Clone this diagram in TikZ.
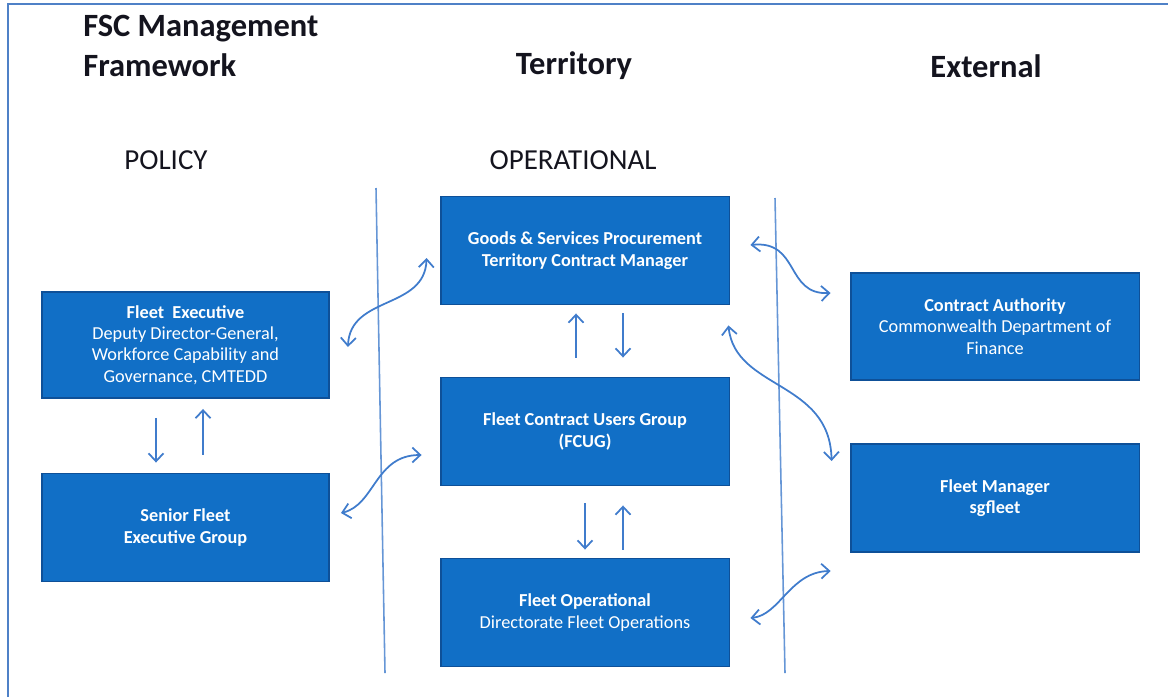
\documentclass[tikz,border=0pt]{standalone}
\usepackage{fontspec}
\setmainfont{Carlito}
\usepackage{tikz}
\usetikzlibrary{arrows.meta, positioning}
\definecolor{fscblue}{RGB}{17,111,198}
\definecolor{fscedge}{RGB}{14,80,152}
\definecolor{fscline}{RGB}{64,124,204}
\definecolor{fscframe}{RGB}{79,129,199}
\definecolor{fscink}{RGB}{20,20,30}
\tikzstyle{orgbox} = [rectangle, fill=fscblue, draw=fscedge, line width=1.1pt,
minimum width=5.78cm, minimum height=2.16cm,
align=center, text=white, font=\fontsize{10.4}{12.2}\selectfont]
\tikzstyle{heading} = [font=\fontsize{18.5}{22.7}\selectfont\bfseries, text=fscink, inner sep=0pt]
\tikzstyle{subheading} = [font=\fontsize{16.5}{20}\selectfont, text=fscink, inner sep=0pt]
\tikzstyle{arrow} = [-{Straight Barb[length=1.6mm, width=3mm]}, draw=fscline, line width=1pt]
\tikzstyle{twoway} = [{Straight Barb[length=1.6mm, width=3mm]}-{Straight Barb[length=1.6mm, width=3mm]}, draw=fscline, line width=1pt]
\tikzstyle{divider} = [draw=fscline!80, line width=0.9pt]

\begin{document}
\begin{tikzpicture}[x=0.02cm, y=-0.02cm]
    \useasboundingbox (0,0) rectangle (1168,697);
    \draw[fscframe, line width=1.6pt] (8,697) -- (8,4) -- (1168,4);

    % column headings
    \node (title) [heading, anchor=west, align=left] at (83,46) {FSC Management\\Framework};
    \node (terr)  [heading] at (574,66) {Territory};
    \node (ext)   [heading] at (986,66) {External};
    \node (pol)   [subheading] at (166,160) {POLICY};
    \node (oper)  [subheading] at (573,160) {OPERATIONAL};

    % column dividers
    \draw[divider] (376,188) -- (385,673);
    \draw[divider] (775,198) -- (785,673);

    % policy column
    \node (exec)   [orgbox, minimum width=5.74cm, minimum height=2.12cm] at (185.5,345)
        {\textbf{Fleet\ \ Executive}\\Deputy Director-General,\\Workforce Capability and\\Governance, CMTEDD};
    \node (senior) [orgbox, minimum width=5.74cm] at (185.5,527.5)
        {\textbf{Senior Fleet}\\\textbf{Executive Group}};

    % operational column
    \node (goods)   [orgbox] at (585,250.5)
        {\textbf{Goods \& Services Procurement}\\\textbf{Territory Contract Manager}};
    \node (fcug)    [orgbox] at (585,431.5)
        {\textbf{Fleet Contract Users Group}\\\textbf{(FCUG)}};
    \node (fleetop) [orgbox] at (585,612.5)
        {\textbf{Fleet Operational}\\Directorate Fleet Operations};

    % external column
    \node (auth)    [orgbox, minimum height=2.14cm] at (995,326.5)
        {\textbf{Contract Authority}\\Commonwealth Department of\\Finance};
    \node (manager) [orgbox, minimum height=2.16cm] at (995,498)
        {\textbf{Fleet Manager}\\\textbf{sgfleet}};

    % up and down links
    \draw[arrow] ([shift={(-29.5,19)}]exec.south) -- ([shift={(-29.5,-10)}]senior.north);
    \draw[arrow] ([shift={(17.5,-18)}]senior.north) -- ([shift={(17.5,10)}]exec.south);
    \draw[arrow] ([shift={(-9,-19)}]fcug.north) -- ([shift={(-9,8)}]goods.south);
    \draw[arrow] ([shift={(38,8)}]goods.south) -- ([shift={(38,-19)}]fcug.north);
    \draw[arrow] ([shift={(0,17)}]fcug.south) -- ([shift={(0,-8)}]fleetop.north);
    \draw[arrow] ([shift={(38,-8)}]fleetop.north) -- ([shift={(38,19)}]fcug.south);

    % links across the dividers
    \draw[twoway] ([shift={(18,2)}]exec.east) .. controls (350,295) and (425,310) .. ([shift={(-13,7.5)}]goods.west);
    \draw[twoway] ([shift={(11,-14.5)}]senior.east) .. controls (375,505) and (375,455) .. ([shift={(-18,23.5)}]fcug.west);
    \draw[twoway] ([shift={(20,-5.5)}]goods.east) .. controls (800,240) and (785,295) .. ([shift={(-19,-33.5)}]auth.west);
    \draw[twoway] ([shift={(-2,20)}]goods.south east) .. controls (735,390) and (830,380) .. ([shift={(-18,18)}]manager.north west);
    \draw[twoway] ([shift={(20,5.5)}]fleetop.east) .. controls (780,615) and (790,572) .. ([shift={(-19,18)}]manager.south west);
\end{tikzpicture}
\end{document}
